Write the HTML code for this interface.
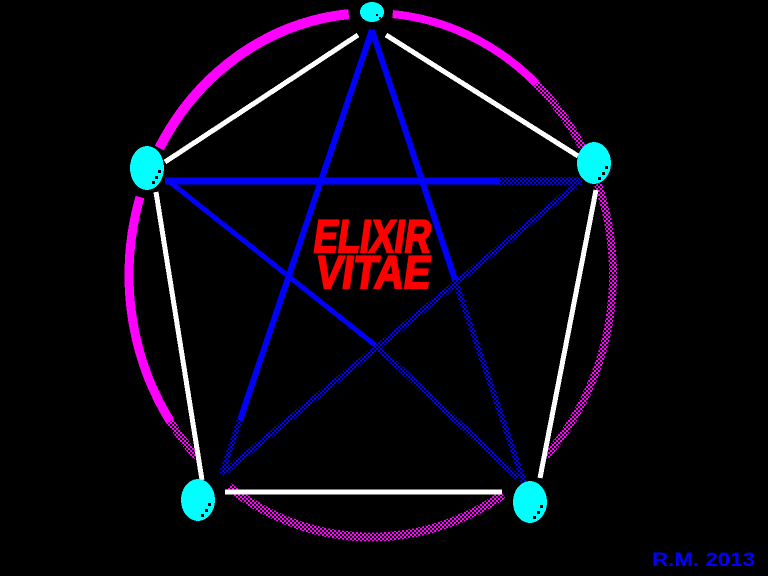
<!DOCTYPE html>
<html><head><meta charset="utf-8"><style>
html,body{margin:0;padding:0;background:#000;width:768px;height:576px;overflow:hidden}
</style></head><body>
<svg width="768" height="576" viewBox="0 0 768 576" xmlns="http://www.w3.org/2000/svg" shape-rendering="crispEdges">
<defs>
<pattern id="mg" width="4" height="4" patternUnits="userSpaceOnUse"><rect x="0" y="0" width="2" height="2" fill="#f0f"/><rect x="2" y="2" width="2" height="2" fill="#f0f"/></pattern>
<pattern id="bl" width="4" height="4" patternUnits="userSpaceOnUse"><rect x="0" y="0" width="2" height="2" fill="#00f"/><rect x="2" y="2" width="2" height="2" fill="#00f"/></pattern>
</defs>
<rect width="768" height="576" fill="#000"/>
<g fill="none">
<ellipse cx="371" cy="275" rx="242" ry="262" pathLength="360" stroke="#f0f" stroke-width="10" stroke-dasharray="55 400" stroke-dashoffset="-210"/>
<ellipse cx="371" cy="275" rx="242" ry="262" pathLength="360" stroke="#f0f" stroke-width="8" stroke-dasharray="37 400" stroke-dashoffset="-275"/>
<ellipse cx="371" cy="275" rx="242" ry="262" pathLength="360" stroke="url(#mg)" stroke-width="8" stroke-dasharray="18 400" stroke-dashoffset="-312"/>
<ellipse cx="371" cy="275" rx="242" ry="262" pathLength="360" stroke="url(#mg)" stroke-width="8" stroke-dasharray="21 400" stroke-dashoffset="-339"/>
<ellipse cx="371" cy="275" rx="242" ry="262" pathLength="360" stroke="url(#mg)" stroke-width="8" stroke-dasharray="45 400" stroke-dashoffset="0"/>
<ellipse cx="371" cy="275" rx="242" ry="262" pathLength="360" stroke="url(#mg)" stroke-width="9" stroke-dasharray="67 400" stroke-dashoffset="-58"/>
<ellipse cx="371" cy="275" rx="242" ry="262" pathLength="360" stroke="url(#mg)" stroke-width="8" stroke-dasharray="10 400" stroke-dashoffset="-135"/>
<ellipse cx="371" cy="275" rx="242" ry="262" pathLength="360" stroke="#f0f" stroke-width="9" stroke-dasharray="53 400" stroke-dashoffset="-145"/>
</g>
<g stroke="#fff" stroke-width="5">
<line x1="358" y1="35" x2="165" y2="162"/>
<line x1="386" y1="35" x2="578" y2="156"/>
<line x1="156" y1="192" x2="202" y2="480"/>
<line x1="596" y1="190" x2="540" y2="478"/>
<line x1="225" y1="492" x2="502" y2="492"/>
</g>
<g stroke-linecap="butt">
<line x1="372" y1="30" x2="240" y2="420" stroke="#00f" stroke-width="6"/>
<line x1="240" y1="420" x2="222" y2="474" stroke="url(#bl)" stroke-width="6"/>
<line x1="372" y1="30" x2="455" y2="280" stroke="#00f" stroke-width="6"/>
<line x1="455" y1="280" x2="524" y2="482" stroke="url(#bl)" stroke-width="6"/>
<line x1="165" y1="181" x2="500" y2="181" stroke="#00f" stroke-width="7"/>
<line x1="500" y1="181" x2="582" y2="181" stroke="url(#bl)" stroke-width="8"/>
<line x1="170" y1="182" x2="375" y2="345" stroke="#00f" stroke-width="5"/>
<line x1="375" y1="345" x2="518" y2="478" stroke="url(#bl)" stroke-width="6"/>
<line x1="575" y1="186" x2="222" y2="474" stroke="url(#bl)" stroke-width="6"/>
</g>
<g fill="#0ff">
<ellipse cx="372" cy="12" rx="12" ry="10"/>
<ellipse cx="147" cy="168" rx="17" ry="22"/>
<ellipse cx="594" cy="163" rx="17" ry="21"/>
<ellipse cx="198" cy="500" rx="17" ry="21"/>
<ellipse cx="530" cy="502" rx="17" ry="21"/>
</g>
<g fill="#000">
<rect x="158" y="170" width="3" height="3"/><rect x="155" y="176" width="3" height="3"/><rect x="152" y="181" width="3" height="3"/>
<rect x="605" y="166" width="3" height="3"/><rect x="602" y="172" width="3" height="3"/><rect x="598" y="177" width="3" height="3"/>
<rect x="208" y="503" width="3" height="3"/><rect x="205" y="509" width="3" height="3"/><rect x="201" y="514" width="3" height="3"/>
<rect x="540" y="505" width="3" height="3"/><rect x="537" y="511" width="3" height="3"/><rect x="533" y="516" width="3" height="3"/>
<rect x="376" y="14" width="2" height="2"/><rect x="379" y="17" width="2" height="2"/>
</g>
<g font-family="Liberation Sans, sans-serif" font-weight="bold" fill="#f00" stroke="#f00" stroke-width="2" font-size="46">
<text x="0" y="0" transform="translate(312,252) skewX(-8) scale(0.82,1)" textLength="143" lengthAdjust="spacingAndGlyphs">ELIXIR</text>
<text x="0" y="0" transform="translate(314,288) skewX(-8) scale(0.82,1)" textLength="140" lengthAdjust="spacingAndGlyphs">VITAE</text>
</g>
<text x="652" y="566" font-family="Liberation Sans, sans-serif" font-weight="bold" font-size="19" fill="#00f" textLength="103" lengthAdjust="spacingAndGlyphs">R.M. 2013</text>
</svg>
</body></html>
